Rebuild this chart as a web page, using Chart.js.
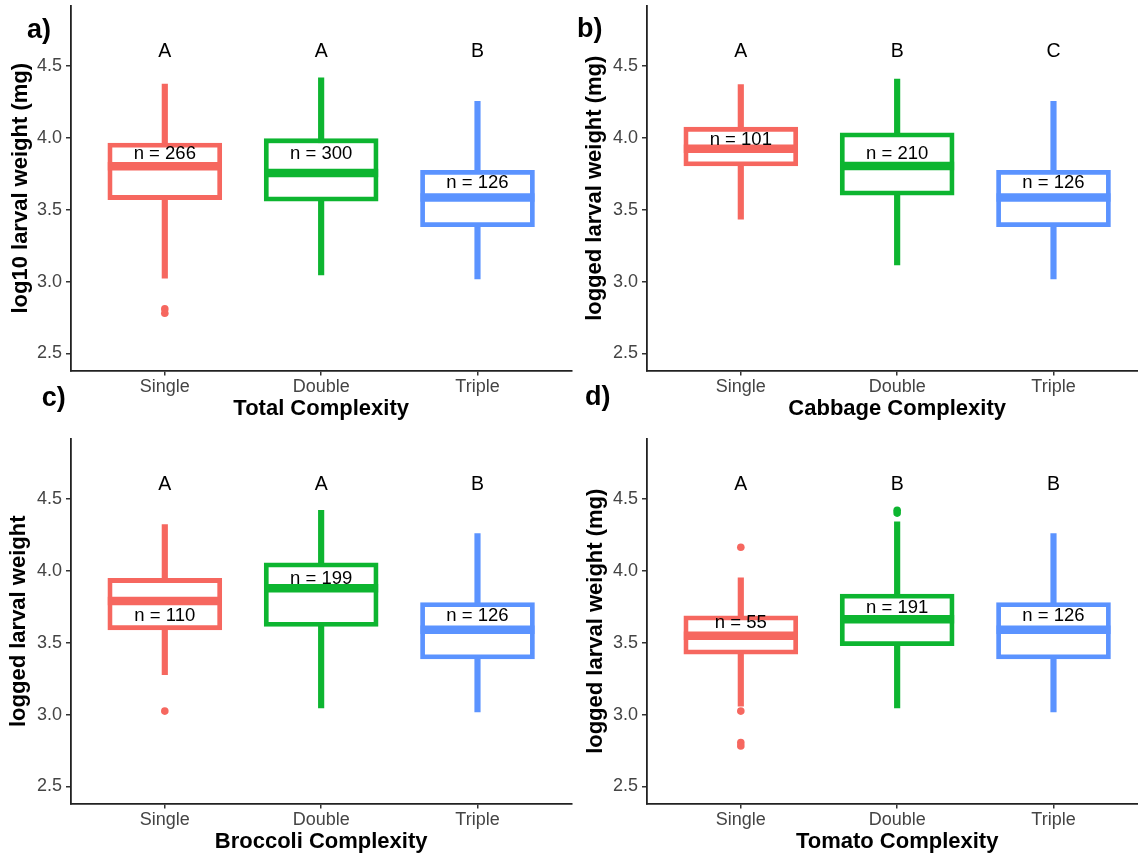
<!DOCTYPE html>
<html>
<head>
<meta charset="utf-8">
<script src="https://cdn.jsdelivr.net/npm/chart.js@4.4.1/dist/chart.umd.min.js"></script>
<style>
  html, body { margin: 0; padding: 0; background: #fff; overflow: hidden; }
  #page { position: relative; width: 1138px; height: 855px; overflow: hidden; background: #fff; }
  canvas { position: absolute; }
</style>
</head>
<body>
<div id="page">
  <canvas id="panel-a" width="576" height="488" style="left:0px;top:-53px"></canvas>
  <canvas id="panel-b" width="576" height="488" style="left:576px;top:-53px"></canvas>
  <canvas id="panel-c" width="576" height="488" style="left:0px;top:380px"></canvas>
  <canvas id="panel-d" width="576" height="488" style="left:576px;top:380px"></canvas>
</div>
<script>
'use strict';

// ---- Data ----

const CATEGORIES = ['Single', 'Double', 'Triple'];
const Y_TICKS = [2.5, 3.0, 3.5, 4.0, 4.5];
const Y_RANGE = [2.382, 4.915];
const X_RANGE = [0.4, 3.6];
const LETTER_Y = 4.6;

// each row: [lower whisker, q1, median, q3, upper whisker]
const TOTAL_STATS = [
  [3.024, 3.570, 3.801, 3.962, 4.373],
  [3.047, 3.559, 3.755, 3.993, 4.415],
  [3.019, 3.381, 3.584, 3.773, 4.253],
];
const TOTAL_OUTLIERS = [[2.78, 2.81], [], []];
const TOTAL_N = [266, 300, 126];
const TOTAL_N_AT = [3.886, 3.884, 3.686];
const TOTAL_LETTERS = ['A', 'A', 'B'];

const CABBAGE_STATS = [
  [3.434, 3.803, 3.923, 4.073, 4.369],
  [3.116, 3.600, 3.803, 4.034, 4.408],
  [3.019, 3.381, 3.584, 3.773, 4.253],
];
const CABBAGE_OUTLIERS = [[], [], []];
const CABBAGE_N = [101, 210, 126];
const CABBAGE_N_AT = [3.986, 3.884, 3.686];
const CABBAGE_LETTERS = ['A', 'B', 'C'];

const BROCCOLI_STATS = [
  [3.277, 3.589, 3.789, 3.946, 4.320],
  [3.047, 3.612, 3.877, 4.055, 4.419],
  [3.019, 3.386, 3.589, 3.778, 4.258],
];
const BROCCOLI_OUTLIERS = [[3.024], [], []];
const BROCCOLI_N = [110, 199, 126];
const BROCCOLI_N_AT = [3.688, 3.942, 3.688];
const BROCCOLI_LETTERS = ['A', 'A', 'B'];

const TOMATO_STATS = [
  [3.058, 3.420, 3.547, 3.686, 3.951],
  [3.047, 3.478, 3.663, 3.838, 4.339],
  [3.019, 3.386, 3.589, 3.778, 4.258],
];
const TOMATO_OUTLIERS = [[4.163, 3.024, 2.805, 2.782], [4.40, 4.42], []];
const TOMATO_N = [55, 191, 126];
const TOMATO_N_AT = [3.640, 3.739, 3.688];
const TOMATO_LETTERS = ['A', 'B', 'B'];

// ---- Style ----

const FONT = '"Liberation Sans", Arial, Helvetica, sans-serif';
const COLORS = ['#F6675F', '#0DB530', '#5B93FF'];
const AXIS_COLOR = '#222';
const TICK_TEXT = '#444';

Chart.defaults.font.family = FONT;

// ---- Panel builder ----

function buildPanel(canvasId, p) {
  const boxes = p.stats.map((s, i) => ({ x: i + 1, y: [s[1], s[3]] }));
  const whiskers = p.stats.map((s, i) => ({ x: i + 1, y: [s[0], s[4]] }));
  const outliers = [];
  const outlierColors = [];
  p.outliers.forEach((vals, i) => vals.forEach(v => {
    outliers.push({ x: i + 1, y: v });
    outlierColors.push(COLORS[i]);
  }));

  const extras = {
    id: 'boxExtras',
    afterDatasetsDraw(chart) {
      const { ctx } = chart;
      const xs = chart.scales.x;
      const ys = chart.scales.y;
      ctx.save();
      // median bars
      chart.getDatasetMeta(0).data.forEach((bar, i) => {
        const yy = ys.getPixelForValue(p.stats[i][2]);
        ctx.strokeStyle = COLORS[i];
        ctx.lineWidth = 8.5;
        ctx.beginPath();
        ctx.moveTo(bar.x - bar.width / 2, yy);
        ctx.lineTo(bar.x + bar.width / 2, yy);
        ctx.stroke();
      });
      ctx.fillStyle = '#000';
      ctx.textAlign = 'center';
      ctx.textBaseline = 'middle';
      ctx.font = `18.5px ${FONT}`;
      p.counts.forEach((c, i) => {
        ctx.fillText(`n = ${c}`, xs.getPixelForValue(i + 1), ys.getPixelForValue(p.countAt[i]));
      });
      ctx.font = `19.5px ${FONT}`;
      p.letters.forEach((l, i) => {
        ctx.fillText(l, xs.getPixelForValue(i + 1), ys.getPixelForValue(LETTER_Y));
      });
      ctx.restore();
    },
    afterDraw(chart) {
      const { ctx } = chart;
      ctx.save();
      ctx.fillStyle = '#000';
      ctx.textAlign = 'left';
      ctx.textBaseline = 'alphabetic';
      ctx.font = `bold 27px ${FONT}`;
      ctx.fillText(p.tag, p.tagPos[0], p.tagPos[1]);
      ctx.restore();
    },
  };

  const axisCommon = {
    grid: { display: true, drawOnChartArea: false, drawTicks: true, tickLength: 5, color: '#333', lineWidth: 1.5, offset: false },
    border: { display: true, color: AXIS_COLOR, width: 1.8 },
  };

  return new Chart(document.getElementById(canvasId), {
    type: 'bar',
    data: {
      datasets: [
        {
          label: 'box',
          data: boxes,
          backgroundColor: '#fff',
          borderColor: COLORS,
          borderWidth: 4.8,
          borderSkipped: false,
          barThickness: 114,
          grouped: false,
          order: 0,
        },
        {
          type: 'scatter',
          label: 'outliers',
          data: outliers,
          pointRadius: 3.8,
          pointBackgroundColor: outlierColors,
          pointBorderWidth: 0,
          showLine: false,
          order: 1,
        },
        {
          label: 'whisker',
          data: whiskers,
          backgroundColor: COLORS,
          borderWidth: 0,
          barThickness: 5.5,
          grouped: false,
          order: 2,
        },
      ],
    },
    options: {
      responsive: false,
      animation: false,
      devicePixelRatio: 1,
      events: [],
      layout: { padding: { left: 0, top: 59, right: 4.7, bottom: 0 } },
      plugins: { legend: { display: false }, tooltip: { enabled: false } },
      scales: {
        x: {
          type: 'linear',
          min: X_RANGE[0],
          max: X_RANGE[1],
          offset: false,
          afterBuildTicks: s => { s.ticks = CATEGORIES.map((_, i) => ({ value: i + 1 })); },
          afterFit: s => { s.height = 64.5; s.paddingLeft = 0; s.paddingRight = 0; },
          ticks: {
            color: TICK_TEXT, font: { size: 18 }, padding: 1,
            maxRotation: 0, autoSkip: false,
            callback: v => CATEGORIES[Math.round(v) - 1],
          },
          title: {
            display: true, text: p.xTitle, color: '#000',
            font: { size: 22, weight: 'bold' }, padding: { top: 0, bottom: 12.5 },
          },
          ...axisCommon,
        },
        y: {
          type: 'linear',
          min: Y_RANGE[0],
          max: Y_RANGE[1],
          afterBuildTicks: s => { s.ticks = Y_TICKS.map(v => ({ value: v })); },
          afterFit: s => { s.width = 71; s.paddingTop = 0; s.paddingBottom = 0; },
          ticks: { color: TICK_TEXT, font: { size: 18 }, padding: 4, callback: v => v.toFixed(1) },
          title: {
            display: true, text: p.yTitle, color: '#000',
            font: { size: 22, weight: 'bold' }, padding: { top: p.yTitlePad, bottom: 0 },
          },
          ...axisCommon,
        },
      },
    },
    plugins: [extras],
  });
}

// ---- Init ----

buildPanel('panel-a', {
  stats: TOTAL_STATS, outliers: TOTAL_OUTLIERS, counts: TOTAL_N, countAt: TOTAL_N_AT, letters: TOTAL_LETTERS,
  xTitle: 'Total Complexity', yTitle: 'log10 larval weight (mg)', yTitlePad: 8,
  tag: 'a)', tagPos: [27, 91],
});
buildPanel('panel-b', {
  stats: CABBAGE_STATS, outliers: CABBAGE_OUTLIERS, counts: CABBAGE_N, countAt: CABBAGE_N_AT, letters: CABBAGE_LETTERS,
  xTitle: 'Cabbage Complexity', yTitle: 'logged larval weight (mg)', yTitlePad: 6,
  tag: 'b)', tagPos: [1, 90],
});
buildPanel('panel-c', {
  stats: BROCCOLI_STATS, outliers: BROCCOLI_OUTLIERS, counts: BROCCOLI_N, countAt: BROCCOLI_N_AT, letters: BROCCOLI_LETTERS,
  xTitle: 'Broccoli Complexity', yTitle: 'logged larval weight', yTitlePad: 5.5,
  tag: 'c)', tagPos: [41.7, 26],
});
buildPanel('panel-d', {
  stats: TOMATO_STATS, outliers: TOMATO_OUTLIERS, counts: TOMATO_N, countAt: TOMATO_N_AT, letters: TOMATO_LETTERS,
  xTitle: 'Tomato Complexity', yTitle: 'logged larval weight (mg)', yTitlePad: 7,
  tag: 'd)', tagPos: [9, 25],
});
</script>
</body>
</html>
